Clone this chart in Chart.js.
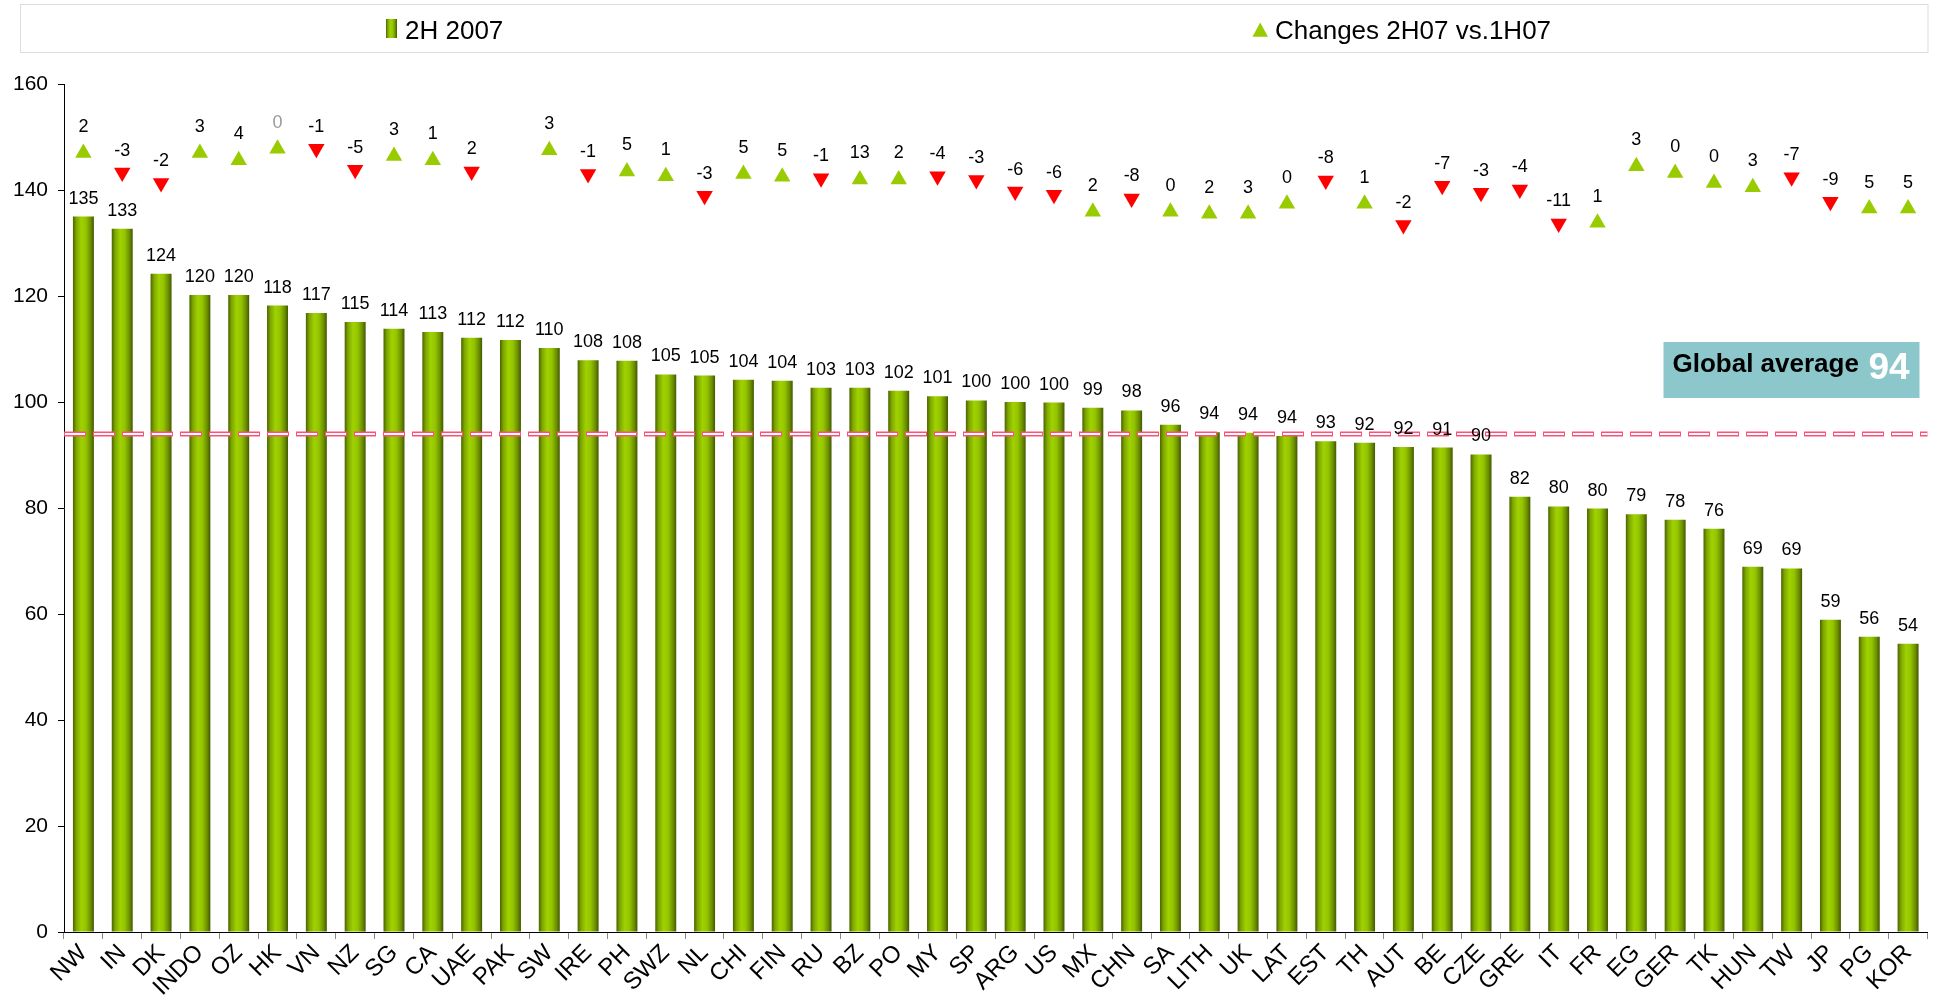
<!DOCTYPE html>
<html><head><meta charset="utf-8">
<script src="https://cdn.jsdelivr.net/npm/chart.js@4/dist/chart.umd.min.js"></script>
<style>html,body{margin:0;padding:0;background:#fff;overflow:hidden}</style>
</head><body>
<canvas id="c" width="1937" height="1002"></canvas>
<script>
// ---------- data ----------
const categories = ['NW','IN','DK','INDO','OZ','HK','VN','NZ','SG','CA','UAE','PAK','SW','IRE','PH','SWZ','NL','CHI','FIN','RU','BZ','PO','MY','SP','ARG','US','MX','CHN','SA','LITH','UK','LAT','EST','TH','AUT','BE','CZE','GRE','IT','FR','EG','GER','TK','HUN','TW','JP','PG','KOR'];
const index2H2007 = [135.0,132.7,124.2,120.2,120.2,118.2,116.8,115.1,113.8,113.2,112.1,111.7,110.2,107.9,107.8,105.2,105.0,104.2,104.0,102.7,102.7,102.1,101.1,100.3,100.0,99.9,98.9,98.4,95.7,94.3,94.2,93.6,92.6,92.3,91.5,91.4,90.1,82.1,80.3,79.9,78.8,77.8,76.1,68.9,68.6,58.9,55.7,54.4];
const changeVs1H07 = [2,-3,-2,3,4,0,-1,-5,3,1,2,null,3,-1,5,1,-3,5,5,-1,13,2,-4,-3,-6,-6,2,-8,0,2,3,0,-8,1,-2,-7,-3,-4,-11,1,3,0,0,3,-7,-9,5,5];
const changeMarkerLevel = [147.0,143.3,141.3,147.0,145.6,147.8,147.8,143.8,146.4,145.6,143.5,null,147.5,143.0,143.5,142.6,138.9,143.0,142.5,142.2,142.0,142.0,142.6,141.9,139.7,139.1,135.9,138.4,135.9,135.5,135.5,137.4,141.8,137.4,133.4,140.8,139.5,140.1,133.7,133.8,144.5,143.2,141.3,140.5,142.4,137.8,136.5,136.5];
const changeDirection = ['up','down','down','up','up','up','down','down','up','up','down',null,'up','down','up','up','down','up','up','down','up','up','down','down','down','down','up','down','up','up','up','up','down','up','down','down','down','down','down','up','up','up','up','up','down','down','up','up'];
const globalAverage = 94;
const yTicks = [0,20,40,60,80,100,120,140,160];
const seriesNames = ['2H 2007','Changes 2H07 vs.1H07'];

// ---------- style ----------
const FONT = "'Liberation Sans', Arial, Helvetica, sans-serif";
const GREEN = '#99CC00', RED = '#FF0000';
const mutedLabels = ['HK'];
const BAR_PCT = 0.54;
const TRI_R = 9.5;

function barGradient(c, x0, x1) {
  const g = c.createLinearGradient(x0, 0, x1, 0);
  g.addColorStop(0, '#4A6300');
  g.addColorStop(0.16, '#7DA600');
  g.addColorStop(0.40, '#A0D200');
  g.addColorStop(0.62, '#94C400');
  g.addColorStop(0.85, '#6A8E00');
  g.addColorStop(1, '#425800');
  return g;
}

const extrasPlugin = {
  id: 'extras',
  afterDatasetsDraw(chart) {
    const c = chart.ctx, a = chart.chartArea;
    const yLine = Math.round(chart.scales.y.getPixelForValue(globalAverage));
    c.save();
    // global average dashed line (over the bars)
    c.lineCap = 'butt';
    c.setLineDash([22, 7]);
    c.strokeStyle = '#FF5078'; c.lineWidth = 5;
    c.beginPath(); c.moveTo(a.left, yLine); c.lineTo(a.right, yLine); c.stroke();
    c.setLineDash([20, 9]); c.lineDashOffset = -1;
    c.strokeStyle = '#FFFFFF'; c.lineWidth = 2;
    c.beginPath(); c.moveTo(a.left, yLine); c.lineTo(a.right, yLine); c.stroke();
    c.setLineDash([]); c.lineDashOffset = 0;
    // value labels
    c.textAlign = 'center'; c.textBaseline = 'alphabetic';
    c.font = '18px ' + FONT;
    const bm = chart.getDatasetMeta(0);
    bm.data.forEach((el, i) => {
      c.fillStyle = '#000';
      c.fillText(String(Math.round(index2H2007[i])), el.x, el.y - 13);
    });
    const pm = chart.getDatasetMeta(1);
    pm.data.forEach((el, i) => {
      if (changeVs1H07[i] === null) return;
      c.fillStyle = mutedLabels.includes(categories[i]) ? '#999' : '#000';
      const off = changeDirection[i] === 'down' ? 17 : 21;
      c.fillText(String(changeVs1H07[i]), el.x, el.y - off);
    });
    c.restore();
  },
  afterDraw(chart) {
    const c = chart.ctx, a = chart.chartArea;
    c.save();
    // legend box
    c.strokeStyle = '#DDDDDD'; c.lineWidth = 1;
    c.strokeRect(20.5, 4.5, a.right - 20, 48);
    c.fillStyle = barGradient(c, 386, 397);
    c.fillRect(386, 19, 11, 19);
    c.font = '26px ' + FONT; c.fillStyle = '#000'; c.textBaseline = 'alphabetic'; c.textAlign = 'left';
    c.fillText(seriesNames[0], 405, 39);
    c.fillStyle = GREEN;
    c.beginPath(); c.moveTo(1260.2, 22.5); c.lineTo(1268, 36.7); c.lineTo(1252.5, 36.7); c.closePath(); c.fill();
    c.fillStyle = '#000';
    c.fillText(seriesNames[1], 1275, 39);
    // global average box
    const yAvg = chart.scales.y.getPixelForValue(globalAverage);
    const bw = 256, bh = 56, bx = a.right - 8 - bw, by = Math.round(yAvg) - 92;
    c.fillStyle = '#8CC8CB'; c.fillRect(bx, by, bw, bh);
    c.fillStyle = '#000'; c.font = 'bold 26px ' + FONT;
    c.fillText('Global average', bx + 9, by + 30);
    c.fillStyle = '#FFF'; c.font = 'bold 37px ' + FONT;
    c.fillText(String(globalAverage), bx + 205, by + 37);
    c.restore();
  }
};

new Chart(document.getElementById('c'), {
  data: {
    labels: categories,
    datasets: [
      {
        type: 'bar', label: seriesNames[0], data: index2H2007, order: 2,
        barPercentage: BAR_PCT, categoryPercentage: 1,
        backgroundColor: (ctx) => {
          const ch = ctx.chart, xs = ch.scales.x;
          if (!xs || ctx.type !== 'data') return GREEN;
          const cx = xs.getPixelForValue(ctx.dataIndex);
          const w = xs.width / categories.length * BAR_PCT;
          if (!isFinite(cx) || !isFinite(w) || w <= 0) return GREEN;
          return barGradient(ch.ctx, cx - w / 2, cx + w / 2);
        },
        borderWidth: 0
      },
      {
        type: 'line', label: seriesNames[1], data: changeMarkerLevel, order: 1,
        showLine: false, pointStyle: 'triangle', pointRadius: TRI_R, pointHoverRadius: TRI_R,
        rotation: (ctx) => changeDirection[ctx.dataIndex] === 'down' ? 180 : 0,
        pointBackgroundColor: (ctx) => changeDirection[ctx.dataIndex] === 'down' ? RED : GREEN,
        pointBorderWidth: 0, borderWidth: 0
      }
    ]
  },
  options: {
    responsive: false, animation: false, devicePixelRatio: 1,
    layout: { padding: { top: 84, right: 8, left: 0, bottom: 0 } },
    plugins: { legend: { display: false }, tooltip: { enabled: false } },
    scales: {
      x: {
        type: 'category',
        grid: { offset: true, drawOnChartArea: false, tickLength: 7, color: '#888', lineWidth: 1 },
        border: { display: true, color: '#000', width: 1 },
        ticks: { autoSkip: false, minRotation: 45, maxRotation: 45, padding: 0, color: '#000', font: { family: FONT, size: 24 } },
        afterFit(s) { s.height = 70; }
      },
      y: {
        min: 0, max: 160,
        afterBuildTicks(s) { s.ticks = yTicks.map(v => ({ value: v })); },
        grid: { drawOnChartArea: false, tickLength: 6, color: '#000' },
        border: { display: true, color: '#000', width: 1 },
        ticks: { padding: 10, color: '#000', font: { family: FONT, size: 21 } },
        afterFit(s) { s.width = 64; }
      }
    }
  },
  plugins: [extrasPlugin]
});
</script>
</body></html>
